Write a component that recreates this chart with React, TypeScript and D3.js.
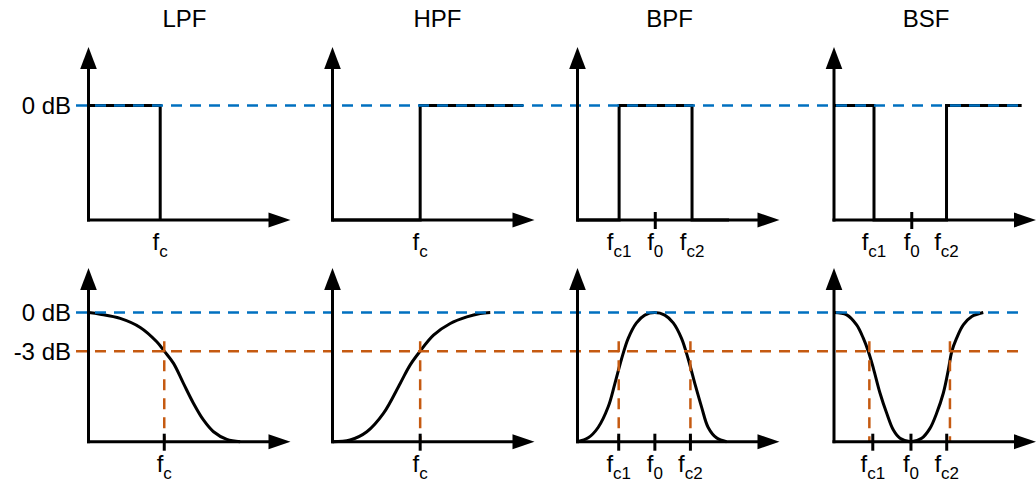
import React from "react";
import * as d3 from "d3";

type Pt = [number, number];

// Filter types, one column each
const filterNames = ["LPF", "HPF", "BPF", "BSF"];

// Ideal (brick-wall) magnitude responses: [normalized frequency, normalized gain]
const idealLPF: Pt[] = [[0, 1], [0.355, 1], [0.355, 0]];
const idealHPF: Pt[] = [[0, 0], [0.434, 0], [0.434, 1], [0.943, 1]];
const idealBPF: Pt[] = [[0, 0], [0.206, 0], [0.206, 1], [0.567, 1], [0.567, 0], [0.75, 0]];
const idealBSF: Pt[] = [[0, 1], [0.198, 1], [0.198, 0], [0.557, 0], [0.557, 1], [0.929, 1]];

// Practical magnitude responses
const realLPF: Pt[] = [
  [0, 1], [0.058, 0.987], [0.157, 0.954], [0.256, 0.884], [0.338, 0.773], [0.375, 0.701],
  [0.421, 0.606], [0.47, 0.451], [0.52, 0.296], [0.569, 0.168], [0.619, 0.077], [0.685, 0.018], [0.751, 0],
];
const realHPF: Pt[] = [
  [0, 0], [0.087, 0.013], [0.17, 0.077], [0.252, 0.219], [0.335, 0.451], [0.384, 0.593],
  [0.434, 0.701], [0.5, 0.825], [0.583, 0.915], [0.665, 0.966], [0.731, 0.992], [0.781, 1],
];
const realBPF: Pt[] = [
  [0, 0], [0.053, 0.03], [0.102, 0.11], [0.152, 0.27], [0.185, 0.45], [0.218, 0.64],
  [0.251, 0.8], [0.292, 0.92], [0.333, 0.98], [0.383, 1], [0.432, 0.98], [0.474, 0.92],
  [0.515, 0.8], [0.548, 0.64], [0.581, 0.45], [0.614, 0.27], [0.647, 0.11], [0.688, 0.03], [0.738, 0],
];
const realBSF: Pt[] = [
  [0, 1], [0.063, 0.982], [0.112, 0.904], [0.145, 0.801], [0.17, 0.698], [0.195, 0.568],
  [0.228, 0.375], [0.261, 0.22], [0.294, 0.09], [0.327, 0.026], [0.381, 0], [0.434, 0.026],
  [0.475, 0.103], [0.508, 0.22], [0.541, 0.375], [0.566, 0.556], [0.583, 0.698], [0.607, 0.801],
  [0.64, 0.904], [0.682, 0.969], [0.739, 1],
];

const idealCurves = [idealLPF, idealHPF, idealBPF, idealBSF];
const realCurves = [realLPF, realHPF, realBPF, realBSF];

// Frequency labels (subscript after "f"), positions and whether a tick is drawn
type FLabel = { sub: string; at: number; tick: boolean };
const idealLabels: FLabel[][] = [
  [{ sub: "c", at: 0.355, tick: false }],
  [{ sub: "c", at: 0.434, tick: false }],
  [{ sub: "c1", at: 0.206, tick: false }, { sub: "0", at: 0.385, tick: true }, { sub: "c2", at: 0.567, tick: false }],
  [{ sub: "c1", at: 0.198, tick: false }, { sub: "0", at: 0.385, tick: true }, { sub: "c2", at: 0.557, tick: false }],
];
const realLabels: FLabel[][] = [
  [{ sub: "c", at: 0.375, tick: true }],
  [{ sub: "c", at: 0.434, tick: true }],
  [{ sub: "c1", at: 0.204, tick: true }, { sub: "0", at: 0.383, tick: true }, { sub: "c2", at: 0.559, tick: true }],
  [{ sub: "c1", at: 0.192, tick: true }, { sub: "0", at: 0.381, tick: true }, { sub: "c2", at: 0.558, tick: true }],
];

// -3 dB cutoff frequencies of the practical responses
const cutoffs: number[][] = [[0.375], [0.434], [0.204, 0.559], [0.175, 0.574]];

// -3 dB level in normalized gain
const halfPowerLevel = 0.7;

// Gain level labels
const zeroDbLabel = "0 dB";
const minus3DbLabel = "-3 dB";

// ---- layout ----
const W = 1036;
const H = 487;
const originsX = [88.5, 332.5, 577.5, 834];
const titleX = [184.5, 437.5, 669.5, 926];
const axisLen = 202;
const rows = [
  { base: 220, zero: 105.5, tip: 47 },
  { base: 441.7, zero: 312.5, tip: 268 },
];
const refLineX0 = 76;
const refLineX1 = 1020;
const BLUE = "#0070C0";
const ORANGE = "#C55A11";
const FONT = "'Liberation Sans', Arial, Helvetica, sans-serif";
const DASH = "11 8";
const LW = 3;

function Axes({ ox, row }: { ox: number; row: { base: number; tip: number } }) {
  const ah = 22;
  const hw = 8.3;
  const xEnd = ox + axisLen;
  return (
    <g>
      <line x1={ox} y1={row.base + LW / 2} x2={ox} y2={row.tip + ah - 2} stroke="#000" strokeWidth={LW} />
      <polygon points={`${ox},${row.tip} ${ox - hw},${row.tip + ah} ${ox + hw},${row.tip + ah}`} fill="#000" />
      <line x1={ox - LW / 2} y1={row.base} x2={xEnd - ah + 2} y2={row.base} stroke="#000" strokeWidth={LW} />
      <polygon points={`${xEnd},${row.base} ${xEnd - ah},${row.base - 7.5} ${xEnd - ah},${row.base + 7.5}`} fill="#000" />
    </g>
  );
}

function FreqLabel({ x, y, sub }: { x: number; y: number; sub: string }) {
  return (
    <text x={x} y={y} textAnchor="middle" fontFamily={FONT} fontSize={24} fill="#000">
      f
      <tspan fontSize={17} dy={7}>
        {sub}
      </tspan>
    </text>
  );
}

export default function App() {
  const panels: React.ReactNode[] = [];

  rows.forEach((row, ri) => {
    const y = d3.scaleLinear().domain([0, 1]).range([row.base, row.zero]);
    filterNames.forEach((name, ci) => {
      const ox = originsX[ci];
      const x = d3.scaleLinear().domain([0, 1]).range([ox, ox + axisLen]);
      const data = ri === 0 ? idealCurves[ci] : realCurves[ci];
      const gen = d3
        .line<Pt>()
        .x((d) => x(d[0]))
        .y((d) => y(Math.max(0, Math.min(1, d[1]))))
        .curve(ri === 0 ? d3.curveLinear : d3.curveCatmullRom.alpha(0.5));
      const labels = ri === 0 ? idealLabels[ci] : realLabels[ci];
      panels.push(
        <g key={`p-${ri}-${ci}`}>
          <path d={gen(data) || ""} fill="none" stroke="#000" strokeWidth={LW} strokeLinejoin="miter" />
          {ri === 1 &&
            cutoffs[ci].map((c, k) => (
              <line
                key={`cut-${k}`}
                x1={x(c)}
                x2={x(c)}
                y1={y(halfPowerLevel) - 10}
                y2={row.base}
                stroke={ORANGE}
                strokeWidth={2.5}
                strokeDasharray={DASH}
              />
            ))}
        </g>
      );
      panels.push(
        <g key={`a-${ri}-${ci}`}>
          <Axes ox={ox} row={row} />
          {labels
            .filter((l) => l.tick)
            .map((l, k) => (
              <line key={`t-${k}`} x1={x(l.at)} x2={x(l.at)} y1={row.base - 8} y2={row.base + 9} stroke="#000" strokeWidth={LW} />
            ))}
          {labels.map((l, k) => (
            <FreqLabel key={`l-${k}`} x={x(l.at)} y={row.base + 30} sub={l.sub} />
          ))}
        </g>
      );
    });
  });

  const yTop = d3.scaleLinear().domain([0, 1]).range([rows[0].base, rows[0].zero]);
  const yBot = d3.scaleLinear().domain([0, 1]).range([rows[1].base, rows[1].zero]);

  return (
    <svg width={W} height={H} style={{ position: "absolute", left: 0, top: 0, background: "#fff" }}>
      <rect width={W} height={H} fill="#fff" />
      {filterNames.map((n, i) => (
        <text key={n} x={titleX[i]} y={27} textAnchor="middle" fontFamily={FONT} fontSize={24} fill="#000">
          {n}
        </text>
      ))}
      {panels.filter((_, i) => i % 2 === 0)}
      {/* reference levels */}
      <line x1={refLineX0} x2={refLineX1} y1={yTop(1)} y2={yTop(1)} stroke={BLUE} strokeWidth={2.5} strokeDasharray={DASH} />
      <line x1={refLineX0} x2={refLineX1} y1={yBot(1)} y2={yBot(1)} stroke={BLUE} strokeWidth={2.5} strokeDasharray={DASH} />
      <line
        x1={refLineX0}
        x2={refLineX1}
        y1={yBot(halfPowerLevel)}
        y2={yBot(halfPowerLevel)}
        stroke={ORANGE}
        strokeWidth={2.5}
        strokeDasharray={DASH}
      />
      {panels.filter((_, i) => i % 2 === 1)}
      <text x={71} y={yTop(1) + 8.5} textAnchor="end" fontFamily={FONT} fontSize={24} fill="#000">
        {zeroDbLabel}
      </text>
      <text x={71} y={yBot(1) + 8.5} textAnchor="end" fontFamily={FONT} fontSize={24} fill="#000">
        {zeroDbLabel}
      </text>
      <text x={71} y={yBot(halfPowerLevel) + 8.5} textAnchor="end" fontFamily={FONT} fontSize={24} fill="#000">
        {minus3DbLabel}
      </text>
    </svg>
  );
}
